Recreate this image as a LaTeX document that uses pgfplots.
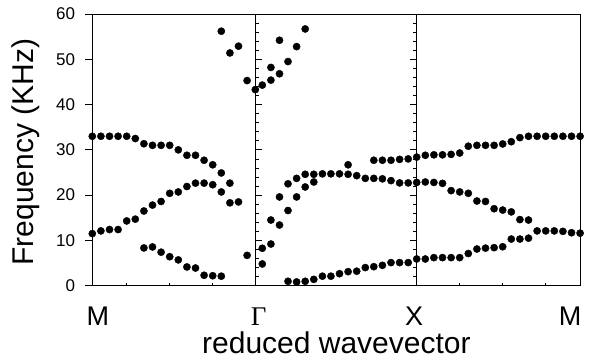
\documentclass[border=0pt]{standalone}
\usepackage{fontspec}
\setmainfont{Liberation Sans}
\newfontfamily\serifgamma{Liberation Serif}
\usepackage{pgfplots}
\pgfplotsset{compat=1.18}
\pgfplotsset{dot/.style={only marks, mark=*, mark size=3.6pt, black, mark options={fill=black, draw=black}}}
\begin{document}
\begin{tikzpicture}
\useasboundingbox (-92.3pt,-77.3pt) rectangle (503.7pt,285.7pt);
\begin{axis}[
  at={(0,0)}, anchor=south west,
  scale only axis, width=488.2pt, height=271.7pt,
  xmin=0, xmax=488.2, ymin=0, ymax=60,
  axis line style={line width=0.9pt},
  ytick={0,10,...,60}, ytick pos=left,
  tick align=outside, major tick length=7pt,
  every tick/.style={black, line width=0.8pt},
  xtick={0,163,324.4,488.2},
  xticklabels={\hspace*{11pt}M,{\hspace*{7pt}\serifgamma Γ},{X\hspace*{5pt}},{M\hspace*{21pt}}},
  xtick style={draw=none},
  xticklabel style={font=\fontsize{27}{29}\selectfont, inner sep=0pt, text depth=0pt, anchor=base, yshift=-32.5pt},
  yticklabel style={font=\fontsize{17}{19}\selectfont, inner sep=0pt, anchor=east, xshift=-10pt},
  /pgf/number format/assume math mode=true,
  clip=false,
]
% internal symmetry-point lines
\addplot[black, line width=0.8pt, mark=none] coordinates {(163,0) (163,60)};
\addplot[black, line width=0.8pt, mark=none] coordinates {(324.4,0) (324.4,60)};
\pgfplotsinvokeforeach{2,4,6,8,12,14,16,18,22,24,26,28,32,34,36,38,42,44,46,48,52,54,56,58}{
  \draw[line width=0.7pt] (axis cs:163,#1) -- ++(3.5pt,0);
  \draw[line width=0.7pt] (axis cs:324.4,#1) -- ++(-3.5pt,0);
}
\pgfplotsinvokeforeach{10,20,30,40,50}{
  \draw[line width=0.7pt] (axis cs:163,#1) -- ++(6.5pt,0);
  \draw[line width=0.7pt] (axis cs:324.4,#1) -- ++(-6.5pt,0);
}
\pgfplotsinvokeforeach{34.4,77,120,367.4,410,452.7}{
  \draw[line width=0.7pt] (axis cs:#1,0) -- ++(0,3pt);
}
% M - Gamma
\addplot[dot] coordinates {(0,33.0)(8.6,33.0)(17.2,33.0)(25.8,33.0)(34.4,33.0)(43,32.5)(51.6,31.35)(60.2,31.0)(68.8,31.0)(77.4,31.0)(86,30.0)(94.6,28.8)(103.2,28.8)(111.8,27.7)(120.4,26.7)(129,24.9)(137.6,22.65)};
\addplot[dot] coordinates {(0,11.5)(8.6,12.1)(17.2,12.4)(25.8,12.4)(34.4,14.3)(43,14.7)(51.6,16.5)(60.2,17.8)(68.8,18.6)(77.4,20.4)(86,20.7)(94.6,21.9)(103.2,22.65)(111.8,22.65)(120.4,22.3)(129,20.7)(137.6,18.3)(146.2,18.5)};
\addplot[dot] coordinates {(51.6,8.34)(60.2,8.56)(68.8,7.4)(77.4,6.4)(86,5.7)(94.6,4.14)(103.2,3.9)(111.8,2.3)(120.4,2.2)(129,2.1)(154.8,6.7)};
\addplot[dot] coordinates {(129,56.2)(137.6,51.4)(146.2,52.9)(154.8,45.3)(163,43.3)};
% Gamma - X
\addplot[dot] coordinates {(170,44.3)(178.6,45.4)(178.6,48.2)(187.2,46.8)(187.2,54.2)(195.7,49.5)(204.3,52.8)(212.9,56.7)};
\addplot[dot] coordinates {(170,8.27)(170,4.8)(178.6,14.5)(178.6,9.2)(187.2,19.6)(187.2,13.4)(195.7,22.5)(195.7,16.6)(204.3,23.7)(204.3,19.6)(212.9,24.6)(212.9,21.8)(221.5,24.6)(221.5,22.9)(230.1,24.7)(238.6,24.7)(247.2,24.7)(255.8,24.6)(255.8,26.7)(264.4,24.3)(273,23.7)(281.5,23.7)(290.1,23.6)(298.7,23.2)(307.3,22.7)(315.9,22.7)(324.4,22.8)};
\addplot[dot] coordinates {(281.5,27.7)(290.1,27.7)(298.7,27.7)(307.3,27.9)(315.9,28.0)(324.4,28.4)};
\addplot[dot] coordinates {(195.7,0.97)(204.3,0.83)(212.9,0.97)(221.5,1.4)(230.1,2.1)(238.6,2.1)(247.2,2.65)(255.8,3.1)(264.4,3.2)(273,4.0)(281.5,4.2)(290.1,4.5)(298.7,5.1)(307.3,5.1)(315.9,5.1)(324.4,5.9)};
% X - M
\addplot[dot] coordinates {(333,28.8)(341.6,28.9)(350.2,28.9)(358.8,29.0)(367.4,29.3)(376,30.8)(384.6,31.0)(393.2,31.0)(401.8,31.0)(410.4,31.3)(419,31.8)(427.6,32.7)(436.2,33.0)(444.8,33.0)(453.4,33.0)(462,33.0)(470.6,33.0)(479.2,33.0)(487.8,33.0)};
\addplot[dot] coordinates {(333,22.9)(341.6,22.8)(350.2,22.6)(358.8,21.0)(367.4,20.7)(376,20.4)(384.6,18.7)(393.2,18.6)(401.8,17.0)(410.4,16.7)(419,16.3)(427.6,14.6)(436.2,14.5)(444.8,12.1)(453.4,12.1)(462,12.1)(470.6,12.0)(479.2,11.7)(487.8,11.6)};
\addplot[dot] coordinates {(333,5.9)(341.6,6.2)(350.2,6.2)(358.8,6.2)(367.4,6.2)(376,7.1)(384.6,8.1)(393.2,8.3)(401.8,8.4)(410.4,8.6)(419,10.3)(427.6,10.3)(436.2,10.5)};
\end{axis}
\node[font=\fontsize{30}{34}\selectfont, inner sep=0pt, anchor=base] at (244.1pt,-67.6pt) {reduced wavevector};
\node[font=\fontsize{30}{34}\selectfont, inner sep=0pt, anchor=base, rotate=90] at (-58.8pt,133.7pt) {Frequency (KHz)};
\end{tikzpicture}
\end{document}
